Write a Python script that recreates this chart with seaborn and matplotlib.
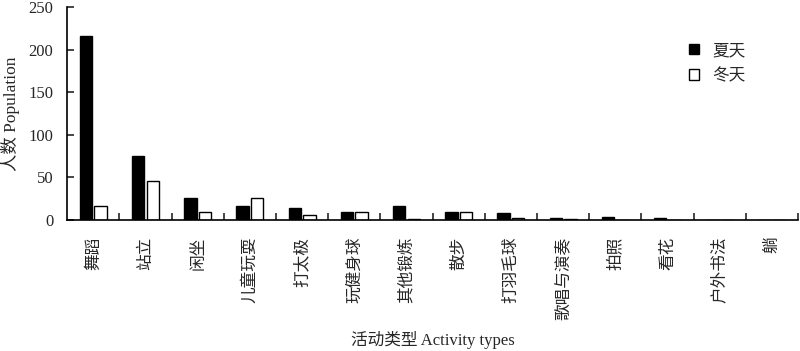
import numpy as np
import pandas as pd
import matplotlib
matplotlib.use('Agg')
import matplotlib.pyplot as plt
import seaborn as sns

# Data
activities = ['舞蹈', '站立', '闲坐', '儿童玩耍', '打太极', '玩健身球', '其他锻炼',
              '散步', '打羽毛球', '歌唱与演奏', '拍照', '看花', '户外书法', '躺']
summer = [216, 75, 26, 16, 14, 10, 16, 9, 8, 2, 4, 3, 0, 0]
winter = [17, 46, 9, 26, 6, 10, 1, 9, 2, 1, 0, 0, 0, 0]
seasons = ['夏天', '冬天']

df = pd.DataFrame({
    'activity': activities * 2,
    'season': [seasons[0]] * len(activities) + [seasons[1]] * len(activities),
    'count': summer + winter,
})

sns.set_style('white')
plt.rcParams['font.family'] = ['Liberation Serif', 'Noto Sans CJK SC']
plt.rcParams['font.size'] = 11.5

fig, ax = plt.subplots(figsize=(8, 3.51), dpi=100)
fig.subplots_adjust(left=0.084, right=0.9975, top=0.98, bottom=0.373)

sns.barplot(data=df, x='activity', y='count', hue='season', order=activities,
            hue_order=seasons, palette=['black', 'white'], saturation=1,
            edgecolor='black', linewidth=1, width=0.56, gap=0.15, ax=ax)

ax.set_xlim(-0.5, len(activities) - 0.5)
ax.set_ylim(0, 250)
ax.set_yticks([0, 50, 100, 150, 200, 250])

# spines
sns.despine(ax=ax)
for s in ['left', 'bottom']:
    ax.spines[s].set_color('black')
    ax.spines[s].set_linewidth(1.2)

# ticks: inward, x ticks between categories
ax.tick_params(axis='y', direction='in', length=5, width=1.2, pad=10,
               labelsize=12, left=True)
ax.set_xticks(np.arange(0.5, len(activities), 1), minor=True)
ax.tick_params(axis='x', which='minor', direction='in', length=5, width=1.2, bottom=True)
ax.tick_params(axis='x', which='major', length=0, pad=12)
ax.set_xticks(range(len(activities)))
ax.set_xticklabels(activities, rotation=90, va='top', ha='center',
                   fontsize=12, family=['Noto Sans CJK SC'])

ax.set_ylabel('人数 Population', fontsize=12.5)
ax.yaxis.set_label_coords(-0.064, 0.5)
ax.set_xlabel('活动类型 Activity types', fontsize=12)
ax.xaxis.set_label_coords(0.5, -0.52)

handles, labels = ax.get_legend_handles_labels()
ax.legend(handles, labels, loc='upper left', bbox_to_anchor=(0.843, 0.923),
          bbox_transform=fig.transFigure, frameon=False, handlelength=0.6,
          handleheight=0.6, handletextpad=0.8, labelspacing=0.5,
          prop={'family': 'Noto Sans CJK SC', 'size': 12})

fig.savefig('out.png', dpi=100)
